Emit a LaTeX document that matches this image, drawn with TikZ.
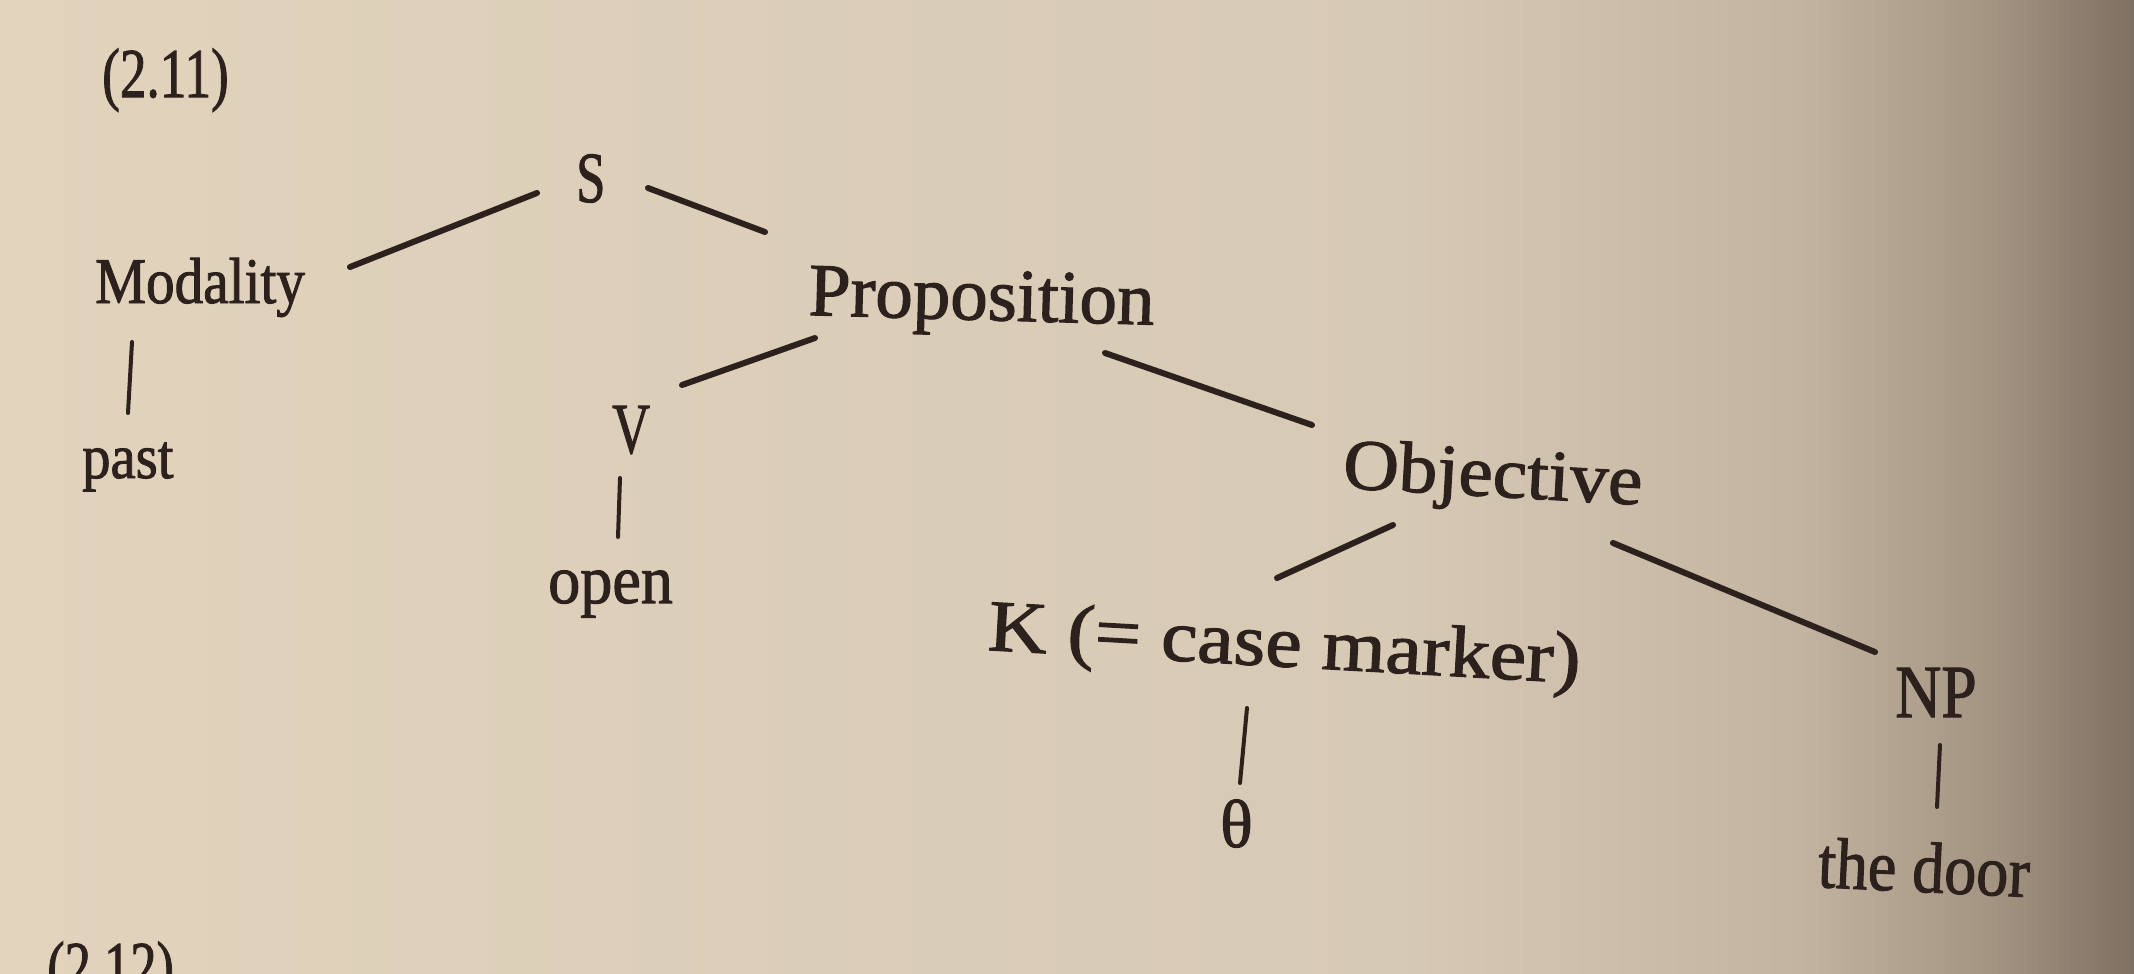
\documentclass[tikz,border=0pt]{standalone}
\usepackage{fontspec}
\setmainfont[FakeBold=1.5]{Liberation Serif}
\usepackage{graphicx}
\definecolor{ink}{RGB}{45,33,30}
\definecolor{pa}{RGB}{225,211,188}
\definecolor{pb}{RGB}{215,202,181}
\definecolor{pc}{RGB}{194,180,160}
\definecolor{pd}{RGB}{162,147,129}
\definecolor{pe}{RGB}{126,112,98}
\tikzset{
  lbl/.style={inner sep=0pt, anchor=base west, text=ink},
  edge/.style={draw=ink, line width=6pt, line cap=round},
  vedge/.style={draw=ink, line width=4pt, line cap=round},
}
\newcommand{\fs}[1]{\fontsize{#1}{#1}\selectfont}
\newcommand{\sx}[2]{\scalebox{#1}[1]{#2}}
\begin{document}
\begin{tikzpicture}[x=1pt,y=-1pt]
\useasboundingbox (0,0) rectangle (2134,974);
\clip (0,0) rectangle (2134,974);
% paper
\fill[left color=pa,right color=pb] (0,0) rectangle (1400,974);
\fill[left color=pb,right color=pc] (1399,0) rectangle (1800,974);
\fill[left color=pc,right color=pd] (1799,0) rectangle (2000,974);
\fill[left color=pd,right color=pe] (1999,0) rectangle (2134,974);
% labels
\node[lbl,font=\fs{70}] (ex1) at (102,97) {\sx{0.76}{(2.11)}};
\node[lbl,font=\fs{72}] (S) at (576,202) {\sx{0.73}{S}};
\node[lbl,font=\fs{65}] (Mod) at (95,303) {\sx{0.88}{Modality}};
\node[lbl,font=\fs{63}] (past) at (82,478) {\sx{0.9}{past}};
\node[lbl,font=\fs{75},rotate=-1.6] (Prop) at (808,315) {Proposition};
\node[lbl,font=\fs{72}] (V) at (612,453) {\sx{0.73}{V}};
\node[lbl,font=\fs{69}] (open) at (548,603) {\sx{0.93}{open}};
\node[lbl,font=\fs{72},rotate=-3.2] (Obj) at (1342,488) {\sx{1.07}{Objective}};
\node[lbl,font=\fs{73},rotate=-3.2] (K) at (987,650) {\sx{1.12}{K (= case marker)}};
\node[lbl,font=\fs{68}] (theta) at (1220,847) {θ};
\node[lbl,font=\fs{75}] (NP) at (1895,717) {\sx{0.85}{NP}};
\node[lbl,font=\fs{72},rotate=-2.7] (door) at (1817,887) {\sx{0.89}{the door}};
\node[lbl,font=\fs{70}] (ex2) at (47,990) {\sx{0.75}{(2.12)}};
% connectors
\draw[edge] ([shift={(255,-36)}]Mod.base west) -- ([shift={(-39,-9)}]S.base west);
\draw[edge] ([shift={(72,-14)}]S.base west) -- ([shift={(-43,-83)}]Prop.base west);
\draw[vedge] ([shift={(37,39)}]Mod.base west) -- ([shift={(46,-65)}]past.base west);
\draw[edge] ([shift={(7,23)}]Prop.base west) -- ([shift={(70,-68)}]V.base west);
\draw[edge] ([shift={(297,38)}]Prop.base west) -- ([shift={(-30,-63)}]Obj.base west);
\draw[vedge] ([shift={(8,25)}]V.base west) -- ([shift={(70,-66)}]open.base west);
\draw[edge] ([shift={(51,37)}]Obj.base west) -- ([shift={(290,-72)}]K.base west);
\draw[edge] ([shift={(271,55)}]Obj.base west) -- ([shift={(-20,-65)}]NP.base west);
\draw[vedge] ([shift={(260,58)}]K.base west) -- ([shift={(20,-64)}]theta.base west);
\draw[vedge] ([shift={(45,28)}]NP.base west) -- ([shift={(120,-80)}]door.base west);
\end{tikzpicture}
\end{document}
